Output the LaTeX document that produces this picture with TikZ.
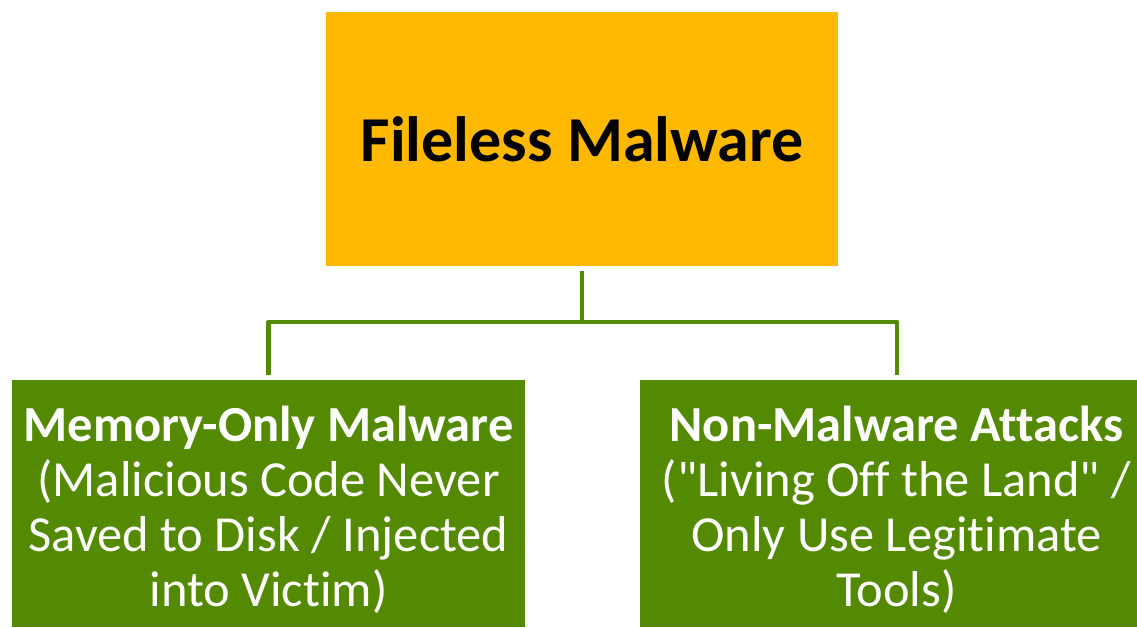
\documentclass[tikz,border=0pt]{standalone}
\usepackage{fontspec}
\setmainfont{Carlito}[Ligatures=NoCommon]
\usepackage{tikz}
\usetikzlibrary{positioning}

\definecolor{rootorange}{HTML}{FFB900}
\definecolor{leafgreen}{HTML}{548A02}

\tikzset{
  root/.style={fill=rootorange, inner sep=0pt, minimum width=512pt, minimum height=254pt,
    align=center, text=black, font=\fontsize{64}{77}\selectfont\bfseries},
  leaf/.style={fill=leafgreen, inner sep=0pt, minimum height=247pt},
  leaftext/.style={inner sep=0pt, align=center, text=white, font=\fontsize{50.5}{55}\selectfont},
  link/.style={draw=leafgreen, line width=4.5pt, line join=round}
}

\begin{document}
\begin{tikzpicture}
      \useasboundingbox (0,0) rectangle (1137pt,-627pt);
      % Nodes
      \node[root] at (582pt,-139pt) (fileless) {Fileless Malware};
      \node[leaf, minimum width=513pt, below=114pt of fileless.south, xshift=-313.5pt] (memonly) {};
      \node[leaf, minimum width=497pt, below=114pt of fileless.south, xshift=306.5pt] (nonmal) {};
      % leaf texts
      \node[leaftext] at ([yshift=-6pt]memonly.center) (memonlytxt)
        {\textbf{Memory-Only Malware}\\(Malicious Code Never\\Saved to Disk / Injected\\into Victim)};
      \node[leaftext] at ([xshift=8pt,yshift=-6pt]nonmal.center) (nonmaltxt)
        {\textbf{Non-Malware Attacks}\\(\textquotedbl Living Off the Land\textquotedbl{} /\\Only Use Legitimate\\Tools)};
      % coordinates for the tree lines
      \coordinate (top) at ([yshift=-5pt]fileless.south);
      \coordinate (bus) at ([yshift=-56pt]fileless.south);
      \coordinate (ldrop) at ([yshift=5pt]memonly.north);
      \coordinate (rdrop) at ([xshift=8.5pt,yshift=5pt]nonmal.north);
      % edges
      \draw[link] (top) -- (bus);
      \draw[link] (ldrop) |- (bus) -| (rdrop);
\end{tikzpicture}
\end{document}
